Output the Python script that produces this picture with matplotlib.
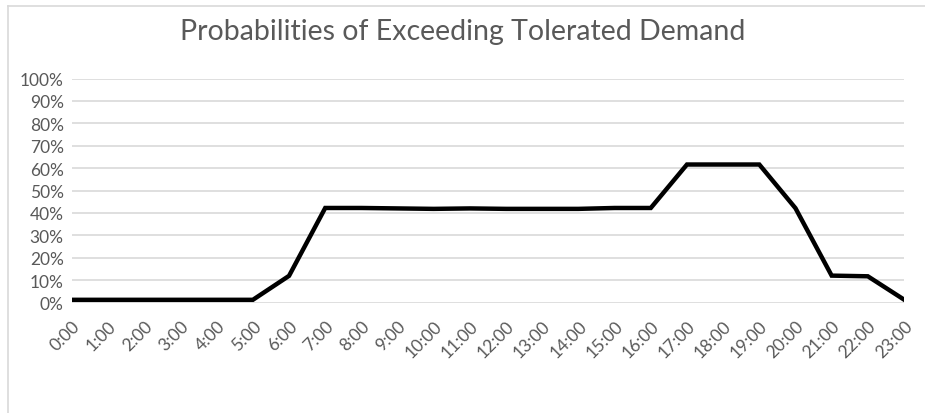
import numpy as np
import matplotlib.pyplot as plt
from matplotlib.ticker import PercentFormatter
from matplotlib.lines import Line2D

hours = [f"{h}:00" for h in range(24)]
probability = [1.2, 1.2, 1.2, 1.2, 1.2, 1.2, 11.9, 42.2, 42.2, 42.0,
               41.8, 42.0, 41.8, 41.8, 41.8, 42.2, 42.2, 61.6, 61.6, 61.6,
               42.1, 12.0, 11.7, 1.3]

plt.rcParams['font.family'] = ['Lato', 'DejaVu Sans']
grey = '#595959'

fig = plt.figure(figsize=(9.25, 4.14), dpi=100)
ax = fig.add_axes([72 / 925, 1 - 303.5 / 414, (904 - 72) / 925, (303.5 - 79.5) / 414])

x = np.arange(len(hours))
ax.plot(x, probability, color='black', lw=3.2, solid_joinstyle='miter', zorder=3)

ax.set_xlim(0, 23)
ax.set_ylim(0, 100)
ax.set_yticks(np.arange(0, 101, 10))
ax.yaxis.set_major_formatter(PercentFormatter(decimals=0))
ax.set_xticks(x)
ax.set_xticklabels(hours, rotation=45, ha='right', rotation_mode='anchor')
ax.grid(axis='y', color='#d9d9d9', lw=1.2)
ax.set_axisbelow(True)
for s in ax.spines.values():
    s.set_visible(False)
ax.tick_params(length=0, colors=grey, labelsize=12.5)
ax.tick_params(axis='x', pad=11)
ax.tick_params(axis='y', pad=6)

fig.text(0.5, 1 - 32 / 414, "Probabilities of Exceeding Tolerated Demand",
         ha='center', va='center', fontsize=20.5, color=grey)

# chart frame
fig.add_artist(Line2D([8 / 925, 8 / 925], [0, 1 - 7 / 414], transform=fig.transFigure,
                      color='#d9d9d9', lw=1.2))
fig.add_artist(Line2D([8 / 925, 1], [1 - 7 / 414, 1 - 7 / 414], transform=fig.transFigure,
                      color='#d9d9d9', lw=1.2))

fig.savefig('out.png', dpi=100)
